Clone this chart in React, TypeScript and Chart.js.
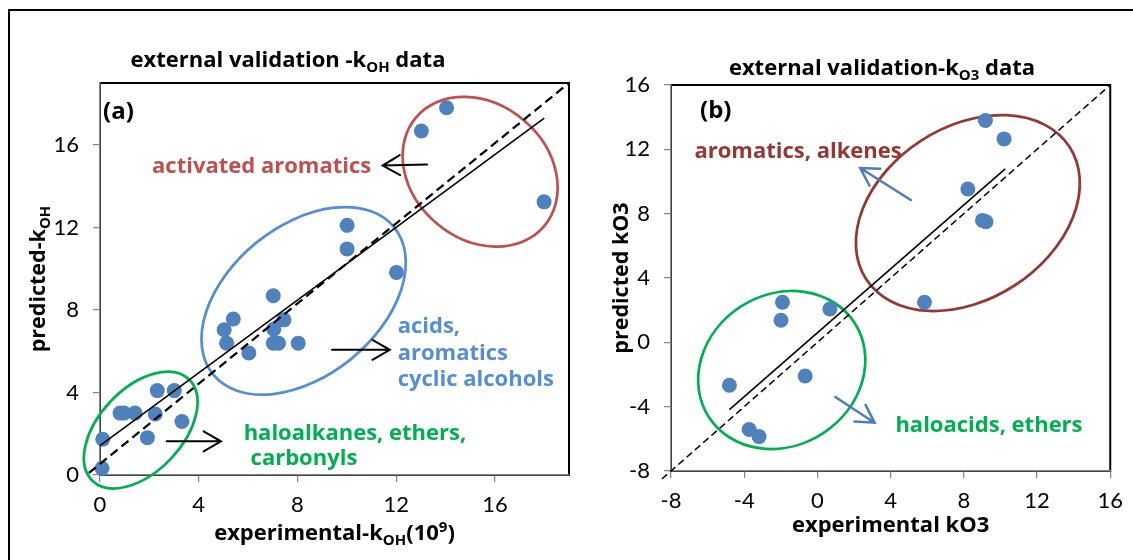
import React, { useEffect, useRef } from 'react';
import { Chart, registerables } from 'chart.js';
Chart.register(...registerables);

const FONT = 'Lato, "Open Sans", Arial, sans-serif';
const BFONT = '"Open Sans", Lato, Arial, sans-serif';

// ---------- panel (a): k_OH ----------
const ticksA = [0, 4, 8, 12, 16];
const expA = [14.04, 13.02, 17.99, 10.01, 10.01, 12.01, 7.02, 5.40, 7.45, 5.03, 7.04, 5.13, 7.02, 7.23, 8.03, 6.03, 2.32, 3.01, 0.81, 0.97, 1.42, 2.24, 3.32, 1.92, 0.11, 0.08];
const predA = [17.8, 16.67, 13.24, 12.1, 10.96, 9.82, 8.69, 7.56, 7.52, 7.04, 7.07, 6.39, 6.39, 6.39, 6.39, 5.91, 4.09, 4.09, 3.0, 3.0, 3.0, 2.96, 2.59, 1.81, 1.73, 0.33];
const fitAx = [0, 18];
const fitAy = [1.42, 17.3];
const idealAx = [-0.45, 19];
const idealAy = [0.1, 19];

// ---------- panel (b): k_O3 ----------
const ticksB = [-8, -4, 0, 4, 8, 12, 16];
const expB = [9.18, 10.2, 8.22, 9.02, 9.21, 5.85, -1.91, -1.99, 0.68, -0.67, -4.81, -3.73, -3.19];
const predB = [13.79, 12.65, 9.53, 7.58, 7.5, 2.49, 2.49, 1.37, 2.07, -2.09, -2.67, -5.42, -5.86];
const fitBx = [-4.81, 10.26];
const fitBy = [-4.18, 10.79];
const idealBx = [-8.5, 16];
const idealBy = [-8.5, 16];

// ---------- annotations (data units for anchors) ----------
type Seg = { t: string; sub?: boolean; sup?: boolean };
const ellipsesA = [
  { cx: 15.4, cy: 14.7, rx: 84, ry: 67.5, rot: 40.3, color: '#C0504D' },
  { cx: 8.25, cy: 8.44, rx: 116.7, ry: 75, rot: -39.1, color: '#558ED5' },
  { cx: 1.65, cy: 2.18, rx: 70, ry: 41.6, rot: -46.6, color: '#00B050' },
];
const labelsA = [
  { text: 'activated aromatics', x: 2.11, y: 14.66, color: '#C0504D' },
  { text: 'acids,', x: 12.06, y: 6.89, color: '#558ED5' },
  { text: 'aromatics', x: 12.06, y: 5.58, color: '#558ED5' },
  { text: 'cyclic alcohols', x: 12.06, y: 4.29, color: '#558ED5' },
  { text: 'haloalkanes, ethers,', x: 5.82, y: 1.70, color: '#00B050' },
  { text: 'carbonyls', x: 6.1, y: 0.49, color: '#00B050' },
];
const arrowsA = [
  { x1: 13.25, y1: 15.05, x2: 11.45, y2: 15.0, color: '#000' },
  { x1: 9.4, y1: 6.07, x2: 11.74, y2: 6.07, color: '#000' },
  { x1: 2.7, y1: 1.63, x2: 4.9, y2: 1.63, color: '#000' },
];
const ellipsesB = [
  { cx: 8.22, cy: 8.04, rx: 121.3, ry: 86.2, rot: -33.1, color: '#953735' },
  { cx: -1.95, cy: -1.72, rx: 86.8, ry: 75.5, rot: -33, color: '#00B050' },
];
const labelsB = [
  { text: 'aromatics, alkenes', x: -6.72, y: 11.45, color: '#953735' },
  { text: 'haloacids, ethers', x: 4.26, y: -5.56, color: '#00B050' },
];
const arrowsB = [
  { x1: 5.1, y1: 8.85, x2: 2.34, y2: 10.84, color: '#4A7EBB' },
  { x1: 0.98, y1: -3.4, x2: 3.12, y2: -5.0, color: '#4A7EBB' },
];

const titleA: Seg[] = [{ t: 'external validation -k' }, { t: 'OH', sub: true }, { t: ' data' }];
const xTitleA: Seg[] = [{ t: 'experimental-k' }, { t: 'OH', sub: true }, { t: '(10' }, { t: '9', sup: true }, { t: ')' }];
const yTitleA: Seg[] = [{ t: 'predicted-k' }, { t: 'OH', sub: true }];
const titleB: Seg[] = [{ t: 'external validation-k' }, { t: 'O3', sub: true }, { t: ' data' }];
const xTitleB: Seg[] = [{ t: 'experimental kO3' }];
const yTitleB: Seg[] = [{ t: 'predicted kO3' }];

function drawRich(ctx: CanvasRenderingContext2D, segs: Seg[], x: number, y: number, size: number, color: string, align: 'left' | 'center') {
  const big = `bold ${size}px ${BFONT}`;
  const small = `bold ${Math.round(size * 0.68)}px ${BFONT}`;
  let w = 0;
  for (const s of segs) {
    ctx.font = s.sub || s.sup ? small : big;
    w += ctx.measureText(s.t).width;
  }
  let cx = align === 'center' ? x - w / 2 : x;
  ctx.fillStyle = color;
  ctx.textAlign = 'left';
  ctx.textBaseline = 'alphabetic';
  for (const s of segs) {
    ctx.font = s.sub || s.sup ? small : big;
    const dy = s.sub ? size * 0.24 : s.sup ? -size * 0.36 : 0;
    ctx.fillText(s.t, cx, y + dy);
    cx += ctx.measureText(s.t).width;
  }
}

function drawArrow(ctx: CanvasRenderingContext2D, x1: number, y1: number, x2: number, y2: number, color: string, width: number) {
  const ang = Math.atan2(y2 - y1, x2 - x1);
  const hl = 20;
  const ha = (30 * Math.PI) / 180;
  ctx.save();
  ctx.strokeStyle = color;
  ctx.lineWidth = width;
  ctx.lineCap = 'round';
  ctx.beginPath();
  ctx.moveTo(x1, y1);
  ctx.lineTo(x2, y2);
  ctx.moveTo(x2 - hl * Math.cos(ang - ha), y2 - hl * Math.sin(ang - ha));
  ctx.lineTo(x2, y2);
  ctx.lineTo(x2 - hl * Math.cos(ang + ha), y2 - hl * Math.sin(ang + ha));
  ctx.stroke();
  ctx.restore();
}

type PanelSpec = {
  ellipses: typeof ellipsesA;
  labels: typeof labelsA;
  arrows: typeof arrowsA;
  arrowWidth: number;
  tag: string;
  tagDx: number;
  tagY: number;
  title: Seg[];
  titleX: number;
  titleY: number;
  xTitle: Seg[];
  xTitleY: number;
  yTitle: Seg[];
  yTitleX: number;
};

function makePlugin(spec: PanelSpec) {
  return {
    id: 'annot',
    beforeDraw(chart: any) {
      const { ctx, chartArea: a } = chart;
      ctx.save();
      ctx.strokeStyle = '#000';
      ctx.lineWidth = 2;
      ctx.strokeRect(a.left, a.top, a.right - a.left, a.bottom - a.top);
      ctx.restore();
    },
    beforeDatasetsDraw(chart: any) {
      const { ctx, scales } = chart;
      ctx.save();
      for (const e of spec.ellipses) {
        ctx.beginPath();
        ctx.strokeStyle = e.color;
        ctx.lineWidth = 2.75;
        ctx.ellipse(scales.x.getPixelForValue(e.cx), scales.y.getPixelForValue(e.cy), e.rx, e.ry, (e.rot * Math.PI) / 180, 0, Math.PI * 2);
        ctx.stroke();
      }
      ctx.restore();
    },
    afterDraw(chart: any) {
      const { ctx, scales, chartArea: a } = chart;
      ctx.save();
      for (const l of spec.labels) {
        drawRich(ctx, [{ t: l.text }], scales.x.getPixelForValue(l.x), scales.y.getPixelForValue(l.y), 22, l.color, 'left');
      }
      for (const r of spec.arrows) {
        drawArrow(ctx, scales.x.getPixelForValue(r.x1), scales.y.getPixelForValue(r.y1), scales.x.getPixelForValue(r.x2), scales.y.getPixelForValue(r.y2), r.color, spec.arrowWidth);
      }
      drawRich(ctx, [{ t: spec.tag }], a.left + spec.tagDx, spec.tagY, 24, '#000', 'left');
      drawRich(ctx, spec.title, spec.titleX, spec.titleY, 22, '#000', 'center');
      drawRich(ctx, spec.xTitle, (a.left + a.right) / 2, spec.xTitleY, 22, '#000', 'center');
      ctx.save();
      ctx.translate(spec.yTitleX, (a.top + a.bottom) / 2);
      ctx.rotate(-Math.PI / 2);
      drawRich(ctx, spec.yTitle, 0, 0, 21.5, '#000', 'center');
      ctx.restore();
      ctx.restore();
    },
  };
}

function axis(min: number, max: number, ticks: number[], isX: boolean, fitSize: number) {
  return {
    type: 'linear' as const,
    min,
    max,
    afterBuildTicks: (s: any) => {
      s.ticks = ticks.map((v) => ({ value: v }));
    },
    afterFit: (s: any) => {
      if (isX) s.height = fitSize;
      else s.width = fitSize;
    },
    grid: { drawOnChartArea: false, drawTicks: true, tickLength: 7, color: '#868686', lineWidth: 1.25 },
    border: { display: true, color: '#868686', width: 1.5 },
    ticks: { font: { family: FONT, size: 22 }, color: '#000', padding: isX ? 10 : 14, maxRotation: 0, autoSkip: false },
  };
}

function buildConfig(px: number[], py: number[], fx: number[], fy: number[], ix: number[], iy: number[], xmin: number, xmax: number, ticks: number[], pad: any, yw: number, xh: number, dash: number[], dashW: number, plugin: any) {
  const pts = px.map((v, i) => ({ x: v, y: py[i] }));
  const fit = fx.map((v, i) => ({ x: v, y: fy[i] }));
  const ideal = ix.map((v, i) => ({ x: v, y: iy[i] }));
  return {
    type: 'scatter' as const,
    data: {
      datasets: [
        { data: fit, showLine: true, borderColor: '#000', borderWidth: 1.6, pointRadius: 0, order: 1, clip: false as any },
        { data: ideal, showLine: true, borderColor: '#000', borderWidth: dashW, borderDash: dash, pointRadius: 0, order: 2, clip: false as any },
        { data: pts, backgroundColor: '#4F81BD', borderWidth: 0, pointRadius: 7.5, order: 3, clip: false as any },
      ],
    },
    options: {
      responsive: false,
      animation: false as const,
      layout: { padding: pad },
      plugins: { legend: { display: false }, tooltip: { enabled: false }, title: { display: false } },
      scales: {
        x: axis(xmin, xmax, ticks, true, xh),
        y: axis(xmin, xmax, ticks, false, yw),
      },
    },
    plugins: [plugin],
  };
}

export default function App() {
  const refA = useRef<HTMLCanvasElement>(null);
  const refB = useRef<HTMLCanvasElement>(null);
  useEffect(() => {
    const plugA = makePlugin({
      ellipses: ellipsesA, labels: labelsA, arrows: arrowsA, arrowWidth: 2, tag: '(a)', tagDx: 3, tagY: 119,
      title: titleA, titleX: 288, titleY: 67, xTitle: xTitleA, xTitleY: 540, yTitle: yTitleA, yTitleX: 45,
    });
    const plugB = makePlugin({
      ellipses: ellipsesB, labels: labelsB, arrows: arrowsB, arrowWidth: 2.5, tag: '(b)', tagDx: 29, tagY: 118,
      title: titleB, titleX: 302, titleY: 75, xTitle: xTitleB, xTitleY: 532, yTitle: yTitleB, yTitleX: 48,
    });
    const cA = new Chart(refA.current!, buildConfig(expA, predA, fitAx, fitAy, idealAx, idealAy, 0, 19, ticksA,
      { top: 83, right: 11, bottom: 0, left: 0 }, 100, 85, [9, 5], 2.25, plugA) as any);
    const cB = new Chart(refB.current!, buildConfig(expB, predB, fitBx, fitBy, idealBx, idealBy, -8, 16, ticksB,
      { top: 85, right: 19, bottom: 0, left: 0 }, 91, 89, [7, 4], 1.5, plugB) as any);
    return () => {
      cA.destroy();
      cB.destroy();
    };
  }, []);
  return (
    <div style={{ position: 'fixed', left: 0, top: 0, width: 1133, height: 560, overflow: 'hidden', background: '#fff' }}>
      <canvas ref={refA} width={580} height={560} style={{ position: 'absolute', left: 0, top: 0, width: 580, height: 560 }} />
      <canvas ref={refB} width={553} height={560} style={{ position: 'absolute', left: 580, top: 0, width: 553, height: 560 }} />
      <div style={{ position: 'absolute', left: 8, top: 9, width: 1200, height: 600, borderLeft: '2px solid #000', borderTop: '2px solid #000', pointerEvents: 'none' }} />
    </div>
  );
}
